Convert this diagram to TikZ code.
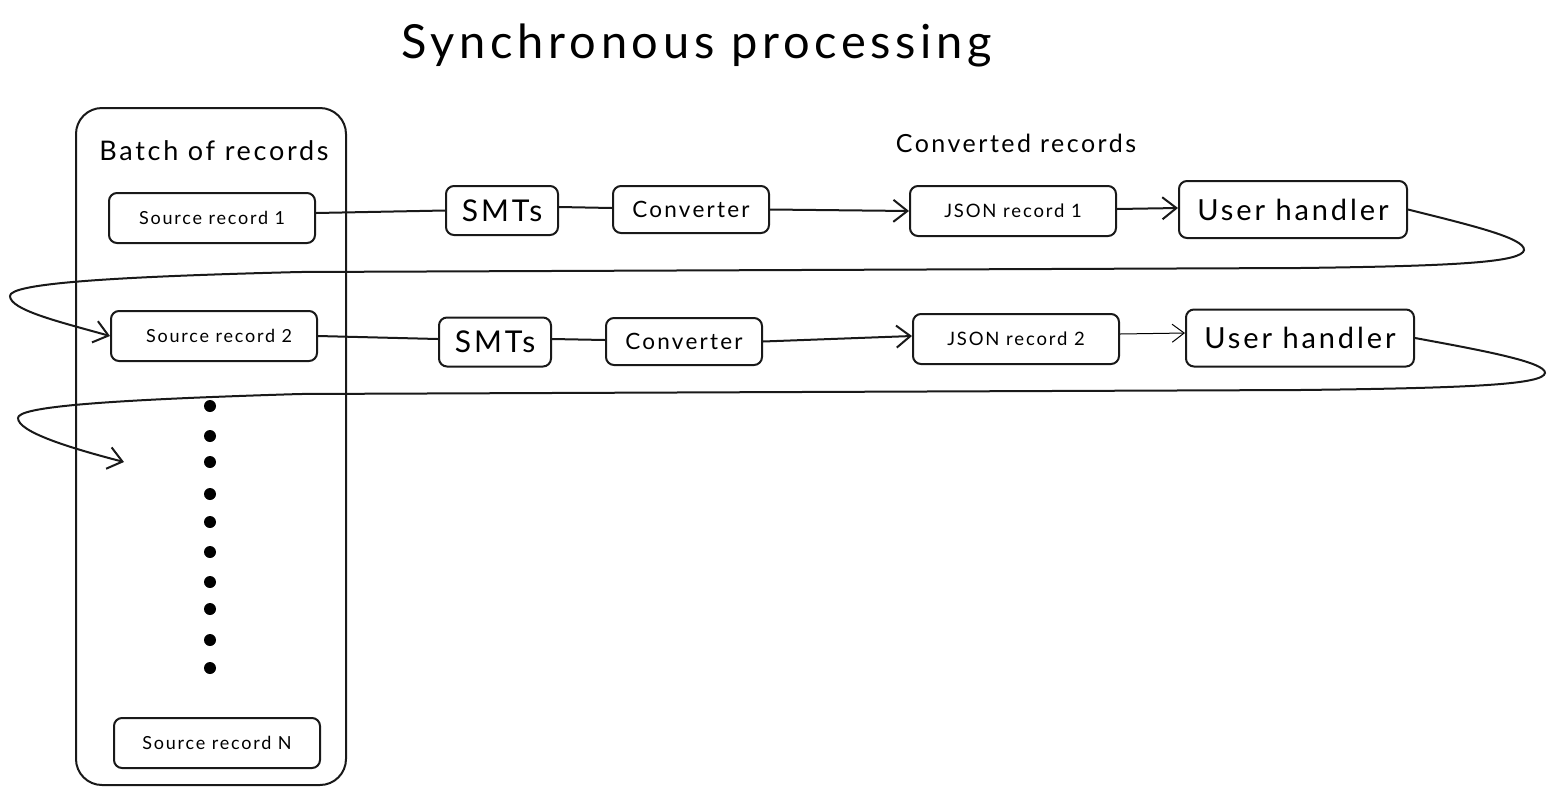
\documentclass[tikz,border=0pt]{standalone}
\usepackage{fontspec}
\setmainfont{Lato}[LetterSpace=10]
\usetikzlibrary{arrows.meta}
\begin{document}
\begin{tikzpicture}[x=1pt,y=-1pt,
  ln/.style={line width=2pt, draw=black!90},
  arr/.style={ln, -{Straight Barb[length=14pt,width=22pt,line width=2pt]}},
  tarr/.style={line width=1pt, -{Straight Barb[length=12pt,width=18pt,line width=1pt]}},
  box/.style={ln, rounded corners=8pt, inner sep=0pt},
  srcbox/.style={box, minimum width=206pt, minimum height=50pt, font=\fontsize{18}{20}\selectfont},
  smtbox/.style={box, minimum width=112pt, minimum height=49pt, font=\fontsize{30}{32}\selectfont},
  convbox/.style={box, minimum width=156pt, minimum height=47pt, font=\fontsize{22.5}{25}\selectfont},
  jsonbox/.style={box, minimum width=206pt, minimum height=50pt, font=\fontsize{18.5}{20}\selectfont},
  uhbox/.style={box, minimum width=228pt, minimum height=57pt, font=\fontsize{29}{32}\selectfont},
  dot/.style={circle, fill=black, inner sep=0pt, minimum size=12pt}
]
\useasboundingbox (0,0) rectangle (1556,796);

\node (title) at (697,45) {\fontsize{47}{52}\selectfont Synchronous processing};

\draw[ln, rounded corners=26pt] (76,108) rectangle (346,785);
\node (batch) at (214,151) {\fontsize{27}{30}\selectfont Batch of records};
\node (conv) at (1016,143) {\fontsize{25}{28}\selectfont Converted records};

\node[srcbox] (s1) at (212,218) {Source record 1};
\node[srcbox] (s2) at (214,336) {\hspace{10pt}Source record 2};
\node[srcbox] (sn) at (217,743) {Source record N};

\node[smtbox] (m1) at (502,210.5) {SMTs};
\node[convbox] (c1) at (691,209.5) {Converter};
\node[jsonbox] (j1) at (1013,211) {JSON record 1\hspace{6pt}};
\node[uhbox] (u1) at (1293,209.5) {User handler};

\node[smtbox] (m2) at (495,342) {SMTs};
\node[convbox] (c2) at (684,341.5) {Converter};
\node[jsonbox] (j2) at (1016,339) {JSON record 2};
\node[uhbox] (u2) at (1300,338) {User handler};

\foreach \yy [count=\i] in {406,436,462,494,522,552,582,609,640,668}
  \node[dot] (d\i) at (210,\yy) {};

\draw[ln] ([yshift=5pt]s1.east) -- (m1.west);
\draw[ln] ([yshift=3.5pt]m1.east) -- ([yshift=1.5pt]c1.west);
\draw[arr] (c1.east) -- (j1.west);
\draw[arr] ([yshift=2pt]j1.east) -- ([yshift=1.5pt]u1.west);

\draw[ln] (s2.east) -- ([yshift=3pt]m2.west);
\draw[ln] ([yshift=3pt]m2.east) -- ([yshift=1.5pt]c2.west);
\draw[arr] (c2.east) -- ([yshift=3pt]j2.west);
\draw[tarr] ([yshift=5pt]j2.east) -- ([yshift=5pt]u2.west);

\coordinate (end2) at (124,462);

\draw[arr] (u1.east) .. controls (1470,225) and (1525,238) .. (1524,250)
  .. controls (1522,262) and (1460,266) .. (1300,268)
  -- (300,272)
  .. controls (100,277) and (10,284) .. (10,296)
  .. controls (10,310) and (60,322) .. (s2.west);

\draw[arr] (u2.east) .. controls (1480,350) and (1546,362) .. (1545,373)
  .. controls (1543,384) and (1480,388) .. (1300,390)
  -- (300,394)
  .. controls (100,400) and (18,407) .. (18,418)
  .. controls (18,432) and (70,448) .. (end2);
\end{tikzpicture}
\end{document}
